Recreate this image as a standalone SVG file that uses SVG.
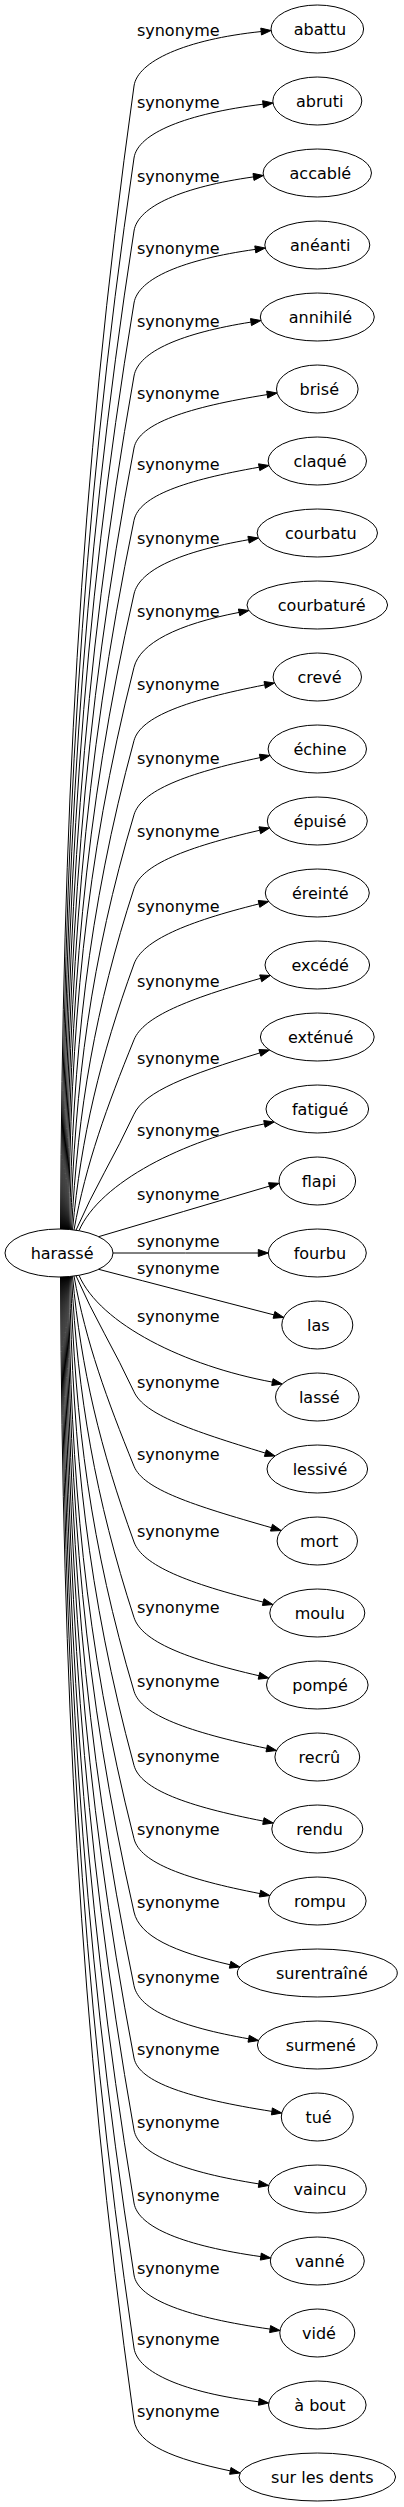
<svg xmlns="http://www.w3.org/2000/svg" width="404" height="2507" viewBox="0 0 404 2507">
<style>
text{font-family:"DejaVu Sans","Liberation Sans",sans-serif;font-size:16px;fill:#000;text-anchor:middle}
.n ellipse{fill:none;stroke:#000;stroke-width:1}
.e path{fill:none;stroke:#000;stroke-width:1}
.e polygon{fill:#000;stroke:#000;stroke-width:1}
</style>
<rect width="404" height="2507" fill="#fff"/>
<g id="edges" class="e">
<path d="M60.5,1229 C62.7,829 78.1,486 134,86 C137.5,61.25 185.3,39.5 261.15,31.55"/><polygon points="261.5,35 271.1,30.5 260.8,28.1"/>
<path d="M61.5,1229 C63.7,854.2 78.9,532.9 134,158 C137.6,133.3 186.2,113.6 263,104.2"/><polygon points="263.4,107.7 273,103 262.6,100.7"/>
<path d="M62.5,1229 C64.6,879.7 79.7,580.3 134,231 C137.8,206.3 182.5,186.9 253.5,176.9"/><polygon points="254,180.4 263.4,175.5 253,173.4"/>
<path d="M63.5,1229.1 C65.6,905 80.4,627.1 134,303 C138.1,278.3 183.2,259.5 255.3,249.4"/><polygon points="255.8,252.9 265.2,248 254.8,245.9"/>
<path d="M64.5,1229.1 C66.6,930.5 81.2,674.6 134,376 C138.4,351.4 181.7,333.1 251,322.1"/><polygon points="251.5,325.6 260.9,320.5 250.5,318.6"/>
<path d="M65.5,1229.2 C67.6,955.8 81.9,721.4 134,448 C138.7,423.4 188.3,407.1 267.2,394.6"/><polygon points="267.7,398.1 277.1,393 266.7,391.1"/>
<path d="M66.5,1229.2 C68.5,981.1 82.7,768.4 134,520.3 C139.1,495.8 185.2,480.2 259.15,467.2"/><polygon points="259.8,470.6 269,465.5 258.5,463.8"/>
<path d="M67.5,1229.3 C69.5,1006.9 83.5,816.4 134,594 C139.5,569.6 180.9,551.6 248.55,539.7"/><polygon points="249.2,543.1 258.4,538 247.9,536.3"/>
<path d="M68.5,1229.4 C70.5,1032.7 84.2,864 134,667.3 C140.1,643.1 177.2,624.4 239.1,612.4"/><polygon points="239.8,615.8 248.9,610.5 238.4,609"/>
<path d="M69.5,1229.5 C72.7,1058.4 87.6,911.7 134,740.6 C140.5,716.5 187.7,699.9 264.7,684.9"/><polygon points="265.4,688.3 274.5,683 264,681.5"/>
<path d="M70.5,1229.6 C74.9,1084.4 90.8,960 134,814.8 C141.1,790.8 186.1,773.3 260.1,757.6"/><polygon points="260.8,761 269.9,755.5 259.4,754.2"/>
<path d="M71.5,1229.7 C77.75,1110.3 95.25,1007.9 134,888.5 C141.7,864.7 186.2,847.25 259.8,830.25"/><polygon points="260.6,833.7 269.5,828 259,826.8"/>
<path d="M72.5,1229.8 C81.1,1136.8 100.2,1057 134,964 C142.5,940.5 186.2,922 259,903.9"/><polygon points="259.8,907.3 268.7,901.5 258.2,900.5"/>
<path d="M74,1229.9 C86,1163.4 107,1106.3 134,1039.8 C143.4,1016.6 187.6,999.2 260.7,978.3"/><polygon points="261.7,981.7 270.3,975.5 259.7,974.9"/>
<path d="M76,1230.2 C93.4,1189.6 115.4,1154.8 134,1114.2 C144.4,1091.5 187.7,1075 259.9,1052.9"/><polygon points="260.9,1056.2 269.5,1050 258.9,1049.6"/>
<path d="M79,1230.7 C100,1182 185,1140 264.4,1123.9"/><polygon points="265.1,1127.3 274.2,1122 263.7,1120.5"/>
<path d="M98.6,1236.7 C155,1220 212,1203 269.5,1186.1"/><polygon points="270.5,1189.5 279.1,1183.3 268.5,1182.7"/>
<path d="M113,1253 C161,1253 210,1253 258.3,1253"/><polygon points="258.3,1256.5 268.3,1253 258.3,1249.5"/>
<path d="M98.6,1269.3 C157,1284.5 215,1299.7 274,1314.9"/><polygon points="273.1,1318.3 283.7,1317.4 274.9,1311.5"/>
<path d="M79,1275.3 C100,1324 185,1366 272.4,1382.1"/><polygon points="271.7,1385.5 282.2,1384 273.1,1378.7"/>
<path d="M76,1275.8 C93.4,1316.4 115.4,1351.2 134,1391.8 C144.4,1414.5 190,1430.1 265.4,1453.1"/><polygon points="264.4,1456.4 275,1456 266.4,1449.75"/>
<path d="M74,1276.1 C86,1342.6 107,1399.7 134,1466.2 C143.4,1489.4 192.2,1505 271.5,1527.7"/><polygon points="270.5,1531.1 281.15,1530.5 272.5,1524.3"/>
<path d="M72.5,1276.2 C81.1,1369.2 100.2,1449 134,1542 C142.5,1565.5 188,1583.4 263.2,1602.1"/><polygon points="262.4,1605.5 272.9,1604.5 264,1598.7"/>
<path d="M71.5,1276.3 C77.75,1395.7 95.25,1498.1 134,1617.5 C141.7,1641.3 185.9,1658.9 259,1675.75"/><polygon points="258.2,1679.2 268.7,1678 259.8,1672.3"/>
<path d="M70.5,1276.4 C74.9,1421.6 90.8,1546 134,1691.2 C141.1,1715.2 188.8,1731.9 266.7,1748.4"/><polygon points="266,1751.8 276.5,1750.5 267.4,1745"/>
<path d="M69.5,1276.5 C72.7,1447.6 87.6,1594.3 134,1765.4 C140.5,1789.5 187.2,1806.3 263.4,1821.1"/><polygon points="262.7,1824.5 273.25,1823 264.1,1817.7"/>
<path d="M68.5,1276.6 C70.5,1473.3 84.2,1642 134,1838.7 C140.1,1862.9 185.8,1879.2 260,1893.6"/><polygon points="259.3,1897 269.8,1895.5 260.7,1890.2"/>
<path d="M67.5,1276.7 C69.5,1499.1 83.5,1689.6 134,1912 C139.5,1936.4 173.9,1951.75 230.1,1964.75"/><polygon points="229.3,1968.2 239.8,1967 230.9,1961.3"/>
<path d="M66.5,1276.8 C68.5,1524.9 82.7,1737.6 134,1985.7 C139.1,2010.2 180.85,2026.9 248.65,2038.8"/><polygon points="248,2042.2 258.5,2040.5 249.3,2035.3"/>
<path d="M65.5,1276.8 C67.6,1550.2 81.9,1784.6 134,2058 C138.7,2082.6 190.2,2098.5 271.9,2111.4"/><polygon points="271.4,2114.9 281.8,2113 272.4,2107.9"/>
<path d="M64.5,1276.9 C66.6,1575.5 81.2,1831.4 134,2130 C138.4,2154.6 184.8,2172.2 258.8,2183.9"/><polygon points="258.3,2187.4 268.7,2185.5 259.3,2180.4"/>
<path d="M63.5,1276.9 C65.6,1601 80.4,1878.9 134,2203 C138.1,2227.7 185.4,2246 260.8,2256.6"/><polygon points="260.3,2260.1 270.7,2258 261.3,2253.1"/>
<path d="M62.5,1277 C64.6,1626.3 79.7,1925.7 134,2275 C137.8,2299.7 189.2,2317.7 270.1,2329.1"/><polygon points="269.6,2332.6 280,2330.5 270.6,2325.6"/>
<path d="M61.5,1277 C63.7,1651.8 78.9,1973.1 134,2348 C137.6,2372.7 184.5,2392.7 258.8,2401.8"/><polygon points="258.4,2405.3 268.7,2403 259.2,2398.3"/>
<path d="M60.5,1277 C62.7,1677 78.1,2020 134,2420 C137.5,2444.75 173.8,2458.9 230.3,2470.9"/><polygon points="229.6,2474.3 240.1,2473 231,2467.5"/>
<g id="edge-labels">
<text x="178.3" y="36">synonyme</text>
<text x="178.3" y="108">synonyme</text>
<text x="178.3" y="182">synonyme</text>
<text x="178.3" y="254.3">synonyme</text>
<text x="178.3" y="327">synonyme</text>
<text x="178.3" y="398.6">synonyme</text>
<text x="178.3" y="470.3">synonyme</text>
<text x="178.3" y="543.6">synonyme</text>
<text x="178.3" y="617">synonyme</text>
<text x="178.3" y="690.3">synonyme</text>
<text x="178.3" y="763.6">synonyme</text>
<text x="178.3" y="837">synonyme</text>
<text x="178.3" y="912">synonyme</text>
<text x="178.3" y="987">synonyme</text>
<text x="178.3" y="1063.6">synonyme</text>
<text x="178.3" y="1136">synonyme</text>
<text x="178.3" y="1199.6">synonyme</text>
<text x="178.3" y="1247.3">synonyme</text>
<text x="178.3" y="1274.3">synonyme</text>
<text x="178.3" y="1322.3">synonyme</text>
<text x="178.3" y="1388.3">synonyme</text>
<text x="178.3" y="1460.3">synonyme</text>
<text x="178.3" y="1537">synonyme</text>
<text x="178.3" y="1613">synonyme</text>
<text x="178.3" y="1687">synonyme</text>
<text x="178.3" y="1762">synonyme</text>
<text x="178.3" y="1835.3">synonyme</text>
<text x="178.3" y="1908.3">synonyme</text>
<text x="178.3" y="1982.6">synonyme</text>
<text x="178.3" y="2055.3">synonyme</text>
<text x="178.3" y="2128">synonyme</text>
<text x="178.3" y="2201.3">synonyme</text>
<text x="178.3" y="2273.6">synonyme</text>
<text x="178.3" y="2345.3">synonyme</text>
<text x="178.3" y="2417.3">synonyme</text>
</g>
</g>
<g id="n-harasse" class="n"><ellipse cx="59" cy="1253" rx="54" ry="24"/><text x="62.1" y="1259">harassé</text></g>
<g id="n-abattu" class="n"><ellipse cx="317.3" cy="29" rx="46.3" ry="24"/><text x="319.9" y="35">abattu</text></g>
<g id="n-abruti" class="n"><ellipse cx="317.3" cy="101" rx="44.5" ry="24"/><text x="319.7" y="107">abruti</text></g>
<g id="n-accable" class="n"><ellipse cx="317.3" cy="173" rx="54.2" ry="24"/><text x="320.4" y="179">accablé</text></g>
<g id="n-aneanti" class="n"><ellipse cx="317.3" cy="245" rx="52.5" ry="24"/><text x="320.3" y="251">anéanti</text></g>
<g id="n-annihile" class="n"><ellipse cx="317.3" cy="317" rx="57" ry="24"/><text x="320.5" y="323">annihilé</text></g>
<g id="n-brise" class="n"><ellipse cx="317.3" cy="389" rx="40.8" ry="24"/><text x="319.3" y="395">brisé</text></g>
<g id="n-claque" class="n"><ellipse cx="317.3" cy="461" rx="49.2" ry="24"/><text x="320" y="467">claqué</text></g>
<g id="n-courbatu" class="n"><ellipse cx="317.3" cy="533" rx="60.2" ry="24"/><text x="320.9" y="539">courbatu</text></g>
<g id="n-courbature" class="n"><ellipse cx="317.3" cy="605" rx="70.3" ry="24"/><text x="321.7" y="611">courbaturé</text></g>
<g id="n-creve" class="n"><ellipse cx="317.3" cy="677" rx="44.2" ry="24"/><text x="319.5" y="683">crevé</text></g>
<g id="n-echine" class="n"><ellipse cx="317.3" cy="749" rx="49.2" ry="24"/><text x="320" y="755">échine</text></g>
<g id="n-epuise" class="n"><ellipse cx="317.3" cy="821" rx="50" ry="24"/><text x="320" y="827">épuisé</text></g>
<g id="n-ereinte" class="n"><ellipse cx="317.3" cy="893" rx="52" ry="24"/><text x="320.2" y="899">éreinté</text></g>
<g id="n-excede" class="n"><ellipse cx="317.3" cy="965" rx="52.3" ry="24"/><text x="320.2" y="971">excédé</text></g>
<g id="n-extenue" class="n"><ellipse cx="317.3" cy="1037" rx="56.9" ry="24"/><text x="320.6" y="1043">exténué</text></g>
<g id="n-fatigue" class="n"><ellipse cx="317.3" cy="1109" rx="51.3" ry="24"/><text x="320.1" y="1115">fatigué</text></g>
<g id="n-flapi" class="n"><ellipse cx="317.3" cy="1181" rx="38.3" ry="24"/><text x="319" y="1187">flapi</text></g>
<g id="n-fourbu" class="n"><ellipse cx="317.3" cy="1253" rx="49" ry="24"/><text x="319.9" y="1259">fourbu</text></g>
<g id="n-las" class="n"><ellipse cx="317.3" cy="1325" rx="35.5" ry="24"/><text x="318.4" y="1331">las</text></g>
<g id="n-lasse" class="n"><ellipse cx="317.3" cy="1397" rx="41.8" ry="24"/><text x="319.3" y="1403">lassé</text></g>
<g id="n-lessive" class="n"><ellipse cx="317.3" cy="1469" rx="50.3" ry="24"/><text x="320" y="1475">lessivé</text></g>
<g id="n-mort" class="n"><ellipse cx="317.3" cy="1541" rx="40.2" ry="24"/><text x="319.2" y="1547">mort</text></g>
<g id="n-moulu" class="n"><ellipse cx="317.3" cy="1613" rx="47.5" ry="24"/><text x="319.8" y="1619">moulu</text></g>
<g id="n-pompe" class="n"><ellipse cx="317.3" cy="1685" rx="50.8" ry="24"/><text x="320.1" y="1691">pompé</text></g>
<g id="n-recru" class="n"><ellipse cx="317.3" cy="1757" rx="42.4" ry="24"/><text x="319.4" y="1763">recrû</text></g>
<g id="n-rendu" class="n"><ellipse cx="317.3" cy="1829" rx="45.5" ry="24"/><text x="319.6" y="1835">rendu</text></g>
<g id="n-rompu" class="n"><ellipse cx="317.3" cy="1901" rx="48.8" ry="24"/><text x="319.9" y="1907">rompu</text></g>
<g id="n-surentraine" class="n"><ellipse cx="317.3" cy="1973" rx="80" ry="24"/><text x="321.9" y="1979">surentraîné</text></g>
<g id="n-surmene" class="n"><ellipse cx="317.3" cy="2045" rx="59.9" ry="24"/><text x="320.8" y="2051">surmené</text></g>
<g id="n-tue" class="n"><ellipse cx="317.3" cy="2117" rx="36" ry="24"/><text x="318.6" y="2123">tué</text></g>
<g id="n-vaincu" class="n"><ellipse cx="317.3" cy="2189" rx="49.1" ry="24"/><text x="320" y="2195">vaincu</text></g>
<g id="n-vanne" class="n"><ellipse cx="317.3" cy="2261" rx="47" ry="24"/><text x="319.8" y="2267">vanné</text></g>
<g id="n-vide" class="n"><ellipse cx="317.3" cy="2333" rx="37.5" ry="24"/><text x="319" y="2339">vidé</text></g>
<g id="n-a-bout" class="n"><ellipse cx="317.3" cy="2405" rx="48.8" ry="24"/><text x="319.9" y="2411">à bout</text></g>
<g id="n-sur-les-dents" class="n"><ellipse cx="317.3" cy="2477" rx="78.3" ry="24"/><text x="322.4" y="2483">sur les dents</text></g>
</svg>
